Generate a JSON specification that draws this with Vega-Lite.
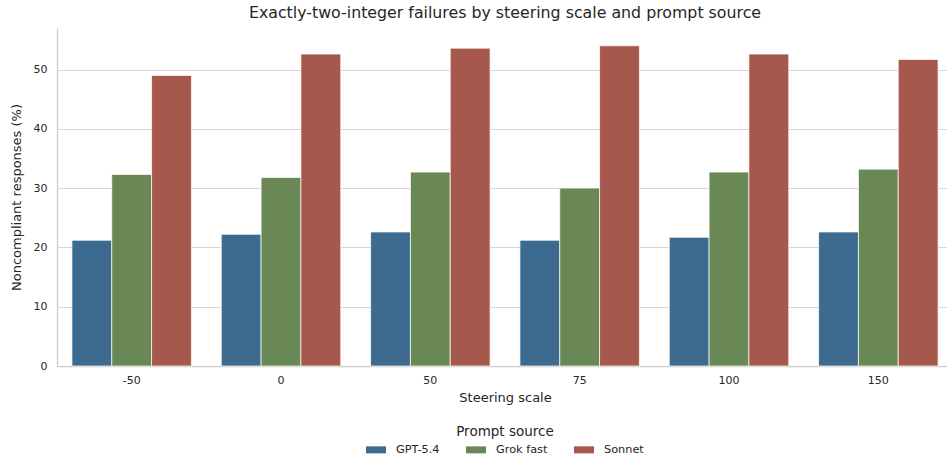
{
  "$schema": "https://vega.github.io/schema/vega-lite/v6.json",
  "autosize": {"type": "none"},
  "padding": {"left": 57, "top": 28, "right": 0, "bottom": 96},
  "width": 896,
  "height": 338,
  "background": "white",
  "config": {
    "font": "DejaVu Sans",
    "view": {"stroke": null},
    "axis": {"labelColor": "#262626", "titleColor": "#262626", "labelFont": "DejaVu Sans", "titleFont": "DejaVu Sans", "titleFontWeight": "normal"},
    "legend": {"labelFont": "DejaVu Sans", "titleFont": "DejaVu Sans"}
  },
  "title": {
    "text": "Exactly-two-integer failures by steering scale and prompt source",
    "fontSize": 15.8,
    "fontWeight": "normal",
    "color": "#262626",
    "anchor": "middle",
    "offset": 6
  },
  "data": {
    "values": [
      {"scale": "-50", "source": "GPT-5.4", "pct": 21.2},
      {"scale": "-50", "source": "Grok fast", "pct": 32.3},
      {"scale": "-50", "source": "Sonnet", "pct": 49.0},
      {"scale": "0", "source": "GPT-5.4", "pct": 22.2},
      {"scale": "0", "source": "Grok fast", "pct": 31.8},
      {"scale": "0", "source": "Sonnet", "pct": 52.6},
      {"scale": "50", "source": "GPT-5.4", "pct": 22.6},
      {"scale": "50", "source": "Grok fast", "pct": 32.7},
      {"scale": "50", "source": "Sonnet", "pct": 53.6},
      {"scale": "75", "source": "GPT-5.4", "pct": 21.2},
      {"scale": "75", "source": "Grok fast", "pct": 30.0},
      {"scale": "75", "source": "Sonnet", "pct": 54.0},
      {"scale": "100", "source": "GPT-5.4", "pct": 21.7},
      {"scale": "100", "source": "Grok fast", "pct": 32.7},
      {"scale": "100", "source": "Sonnet", "pct": 52.6},
      {"scale": "150", "source": "GPT-5.4", "pct": 22.6},
      {"scale": "150", "source": "Grok fast", "pct": 33.2},
      {"scale": "150", "source": "Sonnet", "pct": 51.7}
    ]
  },
  "mark": {"type": "bar", "stroke": "white", "strokeWidth": 1, "strokeOpacity": 0.7},
  "encoding": {
    "x": {
      "field": "scale",
      "type": "nominal",
      "sort": ["-50", "0", "50", "75", "100", "150"],
      "scale": {"paddingInner": 0.2, "paddingOuter": 0.1},
      "axis": {
        "title": "Steering scale",
        "titleFontSize": 13,
        "titlePadding": 6,
        "labelFontSize": 11,
        "labelAngle": 0,
        "labelPadding": 8,
        "ticks": false,
        "domainColor": "#cccccc",
        "domainWidth": 1.25,
        "grid": false
      }
    },
    "xOffset": {
      "field": "source",
      "type": "nominal",
      "sort": ["GPT-5.4", "Grok fast", "Sonnet"],
      "scale": {"paddingInner": 0, "paddingOuter": 0}
    },
    "y": {
      "field": "pct",
      "type": "quantitative",
      "scale": {"domain": [0, 57], "nice": false},
      "axis": {
        "title": "Noncompliant responses (%)",
        "titleFontSize": 13,
        "titlePadding": 10,
        "labelFontSize": 11,
        "labelPadding": 10,
        "values": [0, 10, 20, 30, 40, 50],
        "ticks": false,
        "domainColor": "#cccccc",
        "domainWidth": 1.25,
        "grid": true,
        "gridColor": "#d6d6d6",
        "gridWidth": 1
      }
    },
    "color": {
      "field": "source",
      "type": "nominal",
      "sort": ["GPT-5.4", "Grok fast", "Sonnet"],
      "scale": {"domain": ["GPT-5.4", "Grok fast", "Sonnet"], "range": ["#3d6b8f", "#6a8855", "#a5584b"]},
      "legend": {
        "title": "Prompt source",
        "orient": "none",
        "legendX": 309,
        "legendY": 397,
        "direction": "horizontal",
        "titleFontSize": 13.5,
        "titleFontWeight": "normal",
        "titleColor": "#262626",
        "titleAnchor": "middle",
        "titlePadding": 1,
        "labelFontSize": 11.3,
        "labelColor": "#262626",
        "labelOffset": 10,
        "columnPadding": 26,
        "symbolType": "M-1,-0.35L1,-0.35L1,0.35L-1,0.35Z",
        "symbolSize": 400,
        "symbolStrokeWidth": 0
      }
    }
  }
}
